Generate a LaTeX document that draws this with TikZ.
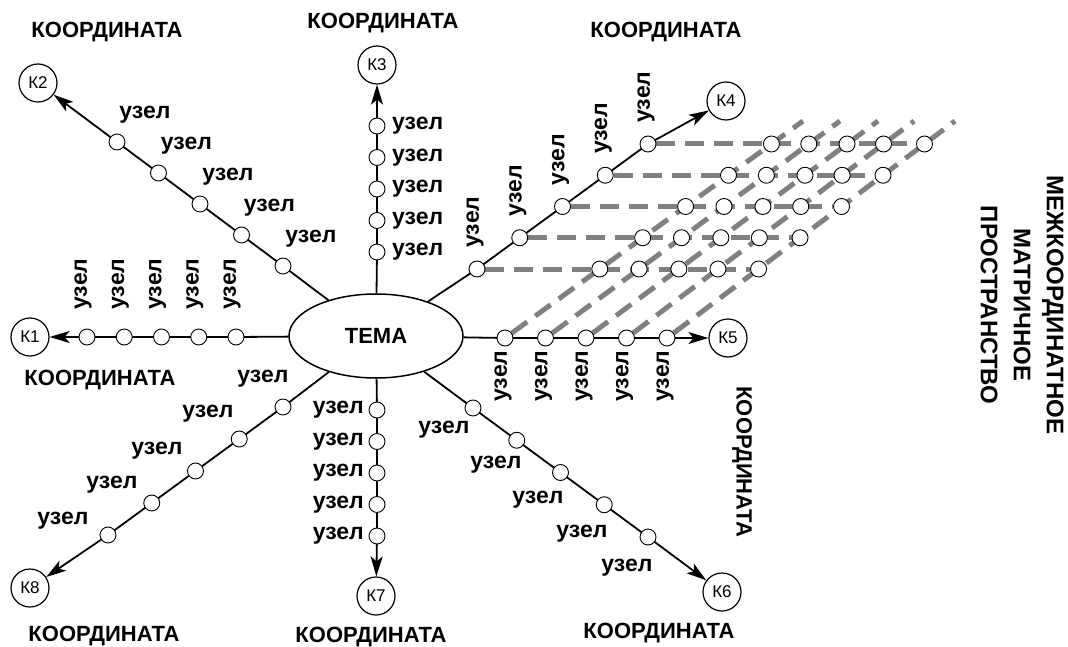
\documentclass[tikz,border=0pt]{standalone}
\usepackage{fontspec}
\setmainfont{Liberation Sans}
\usetikzlibrary{arrows.meta,calc,backgrounds,shapes.geometric}
\definecolor{gridgray}{RGB}{128,128,128}
\begin{document}
\begin{tikzpicture}[x=1pt,y=-1pt,
  dot/.style={circle,draw,fill=white,line width=0.9pt,minimum size=16pt,inner sep=0pt},
  kpoint/.style={circle,draw,fill=white,line width=1.2pt,minimum size=38pt,inner sep=0pt,font=\fontsize{17}{20}\selectfont},
  lbl/.style={font=\bfseries\fontsize{23}{27}\selectfont,inner sep=0pt},
  vlbl/.style={lbl,rotate=90},
  coord/.style={font=\bfseries\fontsize{22}{33}\selectfont,inner sep=0pt},
  axis/.style={line width=1.8pt,-{Stealth[length=20pt,width=12pt,inset=5pt]}},
  gridline/.style={line width=5pt,draw=gridgray,dash pattern=on 19pt off 10pt},
]
\useasboundingbox (0,0) rectangle (1068,647);

% central topic
\node[ellipse,draw,fill=white,line width=1.5pt,minimum width=174pt,minimum height=84pt,inner sep=0pt,
      font=\bfseries\fontsize{22}{26}\selectfont] (TEMA) at (376,336) {ТЕМА};

% end points of the eight coordinates
\foreach \i/\x/\y in {1/30/337, 2/38/83, 3/377/65, 4/726/101, 5/728/338, 6/722/592, 7/376/596, 8/30/588}
  \node[kpoint] (K\i) at (\x,\y) {К\i};

% five nodes on every coordinate
\foreach \nm/\ax/\ay/\bx/\by in {l/236/337/87/337, r/505/338/667/338, u/377/252/377/126,
    d/377/410/377/536, ul/283/266/117/142, ur/477/269/648/144, dr/473/408/648/537, dl/283/407/108/535}{
  \node[dot] (\nm1) at (\ax,\ay) {};
  \node[dot] (\nm5) at (\bx,\by) {};
  \foreach \i/\t in {2/0.25,3/0.5,4/0.75}
    \node[dot] (\nm\i) at ($(\nm1)!\t!(\nm5)$) {};
}

% inter-coordinate matrix: rows from K4 nodes, diagonals from K5 nodes
\foreach \k/\tx in {1/803,2/840,3/878,4/914,5/955} \coordinate (top\k) at (\tx,121);
\foreach \i in {1,...,5}{
  \foreach \k in {1,...,5}{
    \path let \p1=(ur\i), \p2=(r\k), \p3=(top\k) in
      node[dot] (g\i\k) at ({\x2+(\x3-\x2)*((\y1-\y2)/(\y3-\y2))},\y1) {};
  }
}

\begin{scope}[on background layer]
  \foreach \i in {1,...,5} \draw[gridline] (ur\i) -- (g\i5);
  \foreach \k in {1,...,5} \draw[gridline] (r\k) -- (top\k);
  \foreach \nm/\k in {l/1,r/5,u/3,d/7,ul/2,ur/4,dr/6,dl/8}
    \draw[axis] (TEMA) -- (\nm1.center) -- (\nm5.center) -- (K\k);
\end{scope}

% node labels
\foreach \i in {1,...,5} {
  \node[vlbl] (tl\i) at ($(l\i)+(-4,-53)$) {узел};
  \node[vlbl] (tr\i) at ($(r\i)+(-2,38)$) {узел};
  \node[vlbl] (tur\i) at ($(ur\i)+(-2,-47)$) {узел};
  \node[lbl,anchor=west] (tu\i) at ($(u\i)+(15,0)$) {узел};
  \node[lbl,anchor=east] (td\i) at ($(d\i)+(-13,0)$) {узел};
  \node[lbl] (tul\i) at ($(ul\i)+(28,-27)$) {узел};
}
\foreach \i/\x/\y in {1/444/430, 2/496/465, 3/538/500, 4/582/534, 5/627/568}
  \node[lbl] (tdr\i) at (\x,\y) {узел};
\foreach \i/\x/\y in {1/263/379, 2/208/414, 3/157/451, 4/112/485, 5/63/521}
  \node[lbl] (tdl\i) at (\x,\y) {узел};

% coordinate captions
\node[coord] (c1) at (100,380) {КООРДИНАТА};
\node[coord] (c2) at (107,32) {КООРДИНАТА};
\node[coord] (c3) at (383,23) {КООРДИНАТА};
\node[coord] (c4) at (666,32) {КООРДИНАТА};
\node[coord,rotate=-90] (c5) at (742,462) {КООРДИНАТА};
\node[coord] (c6) at (659,633) {КООРДИНАТА};
\node[coord] (c7) at (371,637) {КООРДИНАТА};
\node[coord] (c8) at (104,636) {КООРДИНАТА};

\node[coord,rotate=-90,align=center,font=\bfseries\fontsize{24}{33}\selectfont] (space) at (1022,305)
  {МЕЖКООРДИНАТНОЕ\\МАТРИЧНОЕ\\ПРОСТРАНСТВО};
\end{tikzpicture}
\end{document}
